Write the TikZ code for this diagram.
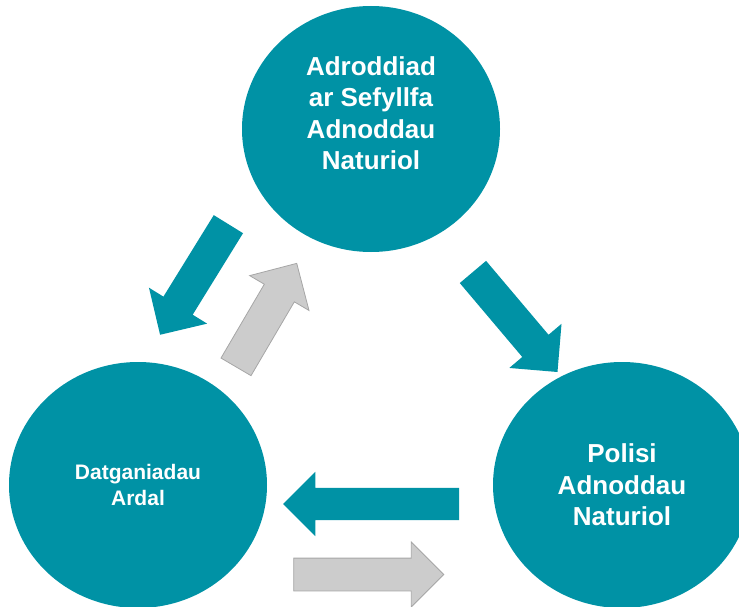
\documentclass[tikz,border=0pt]{standalone}
\usepackage{fontspec}
\setmainfont{Liberation Sans}
\usetikzlibrary{shapes.geometric,shapes.arrows,positioning,calc}
\definecolor{nrwteal}{RGB}{0,146,165}
\definecolor{nrwgrey}{RGB}{204,204,204}
\definecolor{nrwgreyline}{RGB}{166,166,166}

\begin{document}
\begin{tikzpicture}[x=1pt, y=-1pt,
    bubble/.style={ellipse, fill=nrwteal, inner sep=0pt,
                   minimum width=258pt, minimum height=246pt},
    bigtxt/.style={text=white, align=center,
                   font=\fontsize{26}{31.5}\selectfont\bfseries},
    smalltxt/.style={text=white, align=center,
                     font=\fontsize{21}{26}\selectfont\bfseries},
    blockarr/.style={single arrow, anchor=tail, inner xsep=0pt, inner ysep=17pt,
                     single arrow head extend=17pt, draw=none},
    tealarr/.style={blockarr, fill=nrwteal},
    greyarr/.style={blockarr, fill=nrwgrey, draw=nrwgreyline, line width=0.8pt}]
\useasboundingbox (0,0) rectangle (739,607);

% the three circles
\node[bubble] (report) at (371,129) {};
\node[bubble] (area) at (138,485) {};
\node[bubble] (policy) at (622,485) {};

\node[bigtxt] (reportlbl) at ($(report.center)+(0,-16)$)
    {Adroddiad\\ar Sefyllfa\\Adnoddau\\Naturiol};
\node[smalltxt] (arealbl) at (area.center) {Datganiadau\\Ardal};
\node[bigtxt] (policylbl) at (policy.center) {Polisi\\Adnoddau\\Naturiol};

% block arrows between the circles
\node[tealarr, minimum height=130pt, rotate=238.3] (repToArea) at (228.5,224) {};
\node[greyarr, minimum height=120pt, rotate=59.6] (areaToRep) at (235.8,367.2) {};
\node[tealarr, minimum height=131pt, rotate=-49.8] (repToPol) at (472.8,271.8) {};
\node[tealarr, minimum height=176pt, rotate=180, inner ysep=16pt,
      single arrow head extend=16pt] (polToArea) at (459.3,504) {};
\node[greyarr, minimum height=150pt, inner ysep=16pt,
      single arrow head extend=16pt] (areaToPol) at (293.3,574.5) {};
\end{tikzpicture}
\end{document}
